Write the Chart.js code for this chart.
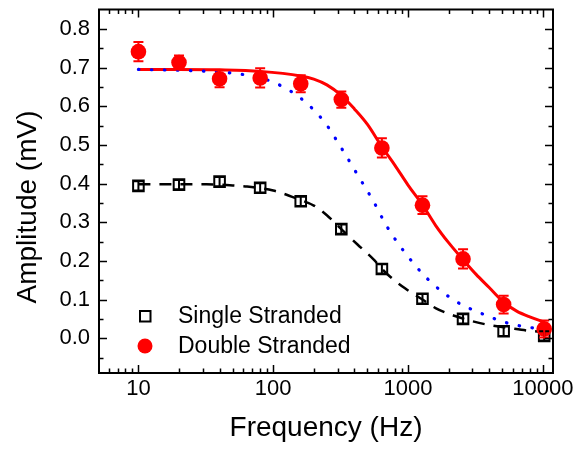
<!DOCTYPE html>
<html lang="en">
<head>
<meta charset="UTF-8">
<title>Amplitude vs Frequency</title>
<script src="https://cdn.jsdelivr.net/npm/chart.js@4.4.1/dist/chart.umd.min.js"></script>
<style>
  html, body { margin: 0; padding: 0; background: #fff; }
</style>
</head>
<body>
<canvas id="ampChart" width="575" height="449"></canvas>
<script>
// measured points, frequency in Hz
const freq  = [10, 20, 40, 80, 160, 320, 640, 1280, 2560, 5120, 10240];
const ssAmp = [0.394, 0.397, 0.405, 0.389, 0.354, 0.282, 0.179, 0.102, 0.050, 0.018, 0.006];
const ssErr = [0.012, 0.012, 0.012, 0.012, 0.012, 0.012, 0.012, 0.012, 0.012, 0.012, 0.012];
const dsAmp = [0.741, 0.713, 0.671, 0.673, 0.658, 0.617, 0.492, 0.344, 0.205, 0.087, 0.024];
const dsErr = [0.025, 0.018, 0.022, 0.025, 0.022, 0.021, 0.025, 0.023, 0.025, 0.023, 0.022];

// fit curves
const redFitF = [10, 20, 40, 80, 160, 200, 250, 320, 400, 500, 640, 800, 1000, 1280, 1600, 2000, 2560, 3200, 4000, 5120, 6400, 8000, 10240];
const redFitA = [0.695, 0.695, 0.694, 0.690, 0.678, 0.670, 0.655, 0.628, 0.593, 0.553, 0.495, 0.447, 0.396, 0.345, 0.292, 0.247, 0.203, 0.165, 0.131, 0.093, 0.070, 0.055, 0.042];
const blueFitF = [10, 32, 64, 100, 158, 240, 320, 420, 550, 700, 950, 1400, 2200, 3500, 5500, 8700, 10240];
const blueFitA = [0.695, 0.690, 0.680, 0.662, 0.622, 0.559, 0.492, 0.424, 0.356, 0.288, 0.221, 0.153, 0.098, 0.064, 0.039, 0.026, 0.024];
const blackFitF = [10, 32, 50, 64, 100, 160, 200, 250, 320, 420, 550, 700, 950, 1280, 1600, 2200, 3000, 4000, 5500, 8000, 10240];
const blackFitA = [0.398, 0.398, 0.395, 0.392, 0.382, 0.357, 0.343, 0.318, 0.282, 0.243, 0.205, 0.166, 0.129, 0.100, 0.078, 0.058, 0.044, 0.034, 0.027, 0.019, 0.016];

// axes
const xTicks = [10, 100, 1000, 10000];
const yTicks = [0.0, 0.1, 0.2, 0.3, 0.4, 0.5, 0.6, 0.7, 0.8];
const xTitle = 'Frequency (Hz)';
const yTitle = 'Amplitude (mV)';
const legendLabels = ['Single Stranded', 'Double Stranded'];

const FONT = '"Liberation Sans", Arial, Helvetica, sans-serif';

const toXY = (xs, ys) => xs.map((v, i) => ({x: v, y: ys[i]}));

// inward ticks on all four sides + box frame + axis titles + legend
const framePlugin = {
  id: 'frame',
  afterDraw(chart) {
    const {ctx, chartArea: a, scales: {x, y}} = chart;
    ctx.save();
    ctx.strokeStyle = '#000';
    ctx.lineWidth = 1.5;
    ctx.beginPath();
    // x ticks (major + minor)
    for (let d = 1; d <= 10000; d *= 10) {
      for (let m = 1; m <= 9; m++) {
        const v = d * m;
        if (v < x.min || v > x.max) continue;
        const px = Math.round(x.getPixelForValue(v)) + 0.5;
        const len = m === 1 ? 8 : 4.5;
        ctx.moveTo(px, a.bottom); ctx.lineTo(px, a.bottom - len);
        ctx.moveTo(px, a.top); ctx.lineTo(px, a.top + len);
      }
    }
    // y ticks every 0.05
    for (let k = -1; k <= 17; k++) {
      const v = k * 0.05;
      if (v < y.min || v > y.max) continue;
      const py = Math.round(y.getPixelForValue(v)) + 0.5;
      const len = k % 2 === 0 ? 8 : 4.5;
      ctx.moveTo(a.left, py); ctx.lineTo(a.left + len, py);
      ctx.moveTo(a.right, py); ctx.lineTo(a.right - len, py);
    }
    ctx.stroke();

    ctx.lineWidth = 2;
    ctx.strokeRect(a.left, a.top, a.right - a.left, a.bottom - a.top);

    // axis titles
    ctx.fillStyle = '#000';
    ctx.font = '28px ' + FONT;
    ctx.textAlign = 'center';
    ctx.textBaseline = 'middle';
    ctx.fillText(xTitle, (a.left + a.right) / 2, 428);
    ctx.save();
    ctx.translate(28, 207);
    ctx.rotate(-Math.PI / 2);
    ctx.fillText(yTitle, 0, 0);
    ctx.restore();

    // legend
    ctx.font = '23px ' + FONT;
    ctx.textAlign = 'left';
    ctx.lineWidth = 2;
    ctx.strokeRect(140, 311, 10.5, 10.5);
    ctx.fillText(legendLabels[0], 178, 317);
    ctx.fillStyle = '#ff0000';
    ctx.beginPath();
    ctx.arc(145, 346, 7.5, 0, Math.PI * 2);
    ctx.fill();
    ctx.fillStyle = '#000';
    ctx.fillText(legendLabels[1], 178, 347);
    ctx.restore();
  }
};

// vertical error bars with caps
const errorBarPlugin = {
  id: 'errorBars',
  afterDatasetsDraw(chart) {
    const {ctx, scales: {x, y}} = chart;
    const sets = [
      {amp: ssAmp, err: ssErr, color: '#000', cap: 5},
      {amp: dsAmp, err: dsErr, color: '#ff0000', cap: 5}
    ];
    ctx.save();
    ctx.lineWidth = 2;
    sets.forEach(s => {
      ctx.strokeStyle = s.color;
      ctx.beginPath();
      freq.forEach((f, i) => {
        const px = x.getPixelForValue(f);
        const top = y.getPixelForValue(s.amp[i] + s.err[i]);
        const bot = y.getPixelForValue(s.amp[i] - s.err[i]);
        ctx.moveTo(px, top); ctx.lineTo(px, bot);
        ctx.moveTo(px - s.cap, top); ctx.lineTo(px + s.cap, top);
        ctx.moveTo(px - s.cap, bot); ctx.lineTo(px + s.cap, bot);
      });
      ctx.stroke();
    });
    ctx.restore();
  }
};

new Chart(document.getElementById('ampChart'), {
  type: 'scatter',
  data: {
    datasets: [
      {
        label: legendLabels[1],
        data: toXY(freq, dsAmp),
        pointStyle: 'circle',
        pointRadius: 7.8,
        backgroundColor: '#ff0000',
        borderColor: '#ff0000',
        borderWidth: 0,
        order: 1
      },
      {
        label: legendLabels[0],
        data: toXY(freq, ssAmp),
        pointStyle: 'rect',
        pointRadius: 7.5,
        backgroundColor: 'rgba(0,0,0,0)',
        borderColor: '#000',
        borderWidth: 2,
        order: 2
      },
      {
        label: 'fit blue',
        data: toXY(blueFitF, blueFitA),
        showLine: true,
        pointRadius: 0,
        borderColor: '#0000ff',
        borderWidth: 3.2,
        borderDash: [0.5, 12.5],
        borderCapStyle: 'round',
        cubicInterpolationMode: 'monotone',
        order: 3
      },
      {
        label: 'fit red',
        data: toXY(redFitF, redFitA),
        showLine: true,
        pointRadius: 0,
        borderColor: '#ff0000',
        borderWidth: 3,
        cubicInterpolationMode: 'monotone',
        order: 4
      },
      {
        label: 'fit black',
        data: toXY(blackFitF, blackFitA),
        showLine: true,
        pointRadius: 0,
        borderColor: '#000',
        borderWidth: 2.5,
        borderDash: [12, 9],
        cubicInterpolationMode: 'monotone',
        order: 5
      }
    ]
  },
  options: {
    responsive: false,
    animation: false,
    layout: { padding: { top: 3, right: 22, left: 0, bottom: 0 } },
    plugins: {
      legend: { display: false },
      tooltip: { enabled: false }
    },
    scales: {
      x: {
        type: 'logarithmic',
        min: 5.1,
        max: 11900,
        grid: { display: false, drawTicks: false },
        border: { display: false },
        afterBuildTicks: s => { s.ticks = xTicks.map(v => ({value: v})); },
        afterFit: s => { s.height = 76; s.paddingLeft = 0; s.paddingRight = 0; },
        ticks: {
          padding: 3,
          color: '#000',
          maxRotation: 0,
          autoSkip: false,
          font: { family: FONT, size: 22 },
          callback: v => String(v)
        }
      },
      y: {
        min: -0.09,
        max: 0.85,
        grid: { display: false, drawTicks: false },
        border: { display: false },
        afterBuildTicks: s => { s.ticks = yTicks.map(v => ({value: v})); },
        afterFit: s => { s.width = 99; s.paddingTop = 0; s.paddingBottom = 0; },
        ticks: {
          padding: 9,
          color: '#000',
          autoSkip: false,
          font: { family: FONT, size: 22 },
          callback: v => v.toFixed(1)
        }
      }
    }
  },
  plugins: [errorBarPlugin, framePlugin]
});
</script>
</body>
</html>
